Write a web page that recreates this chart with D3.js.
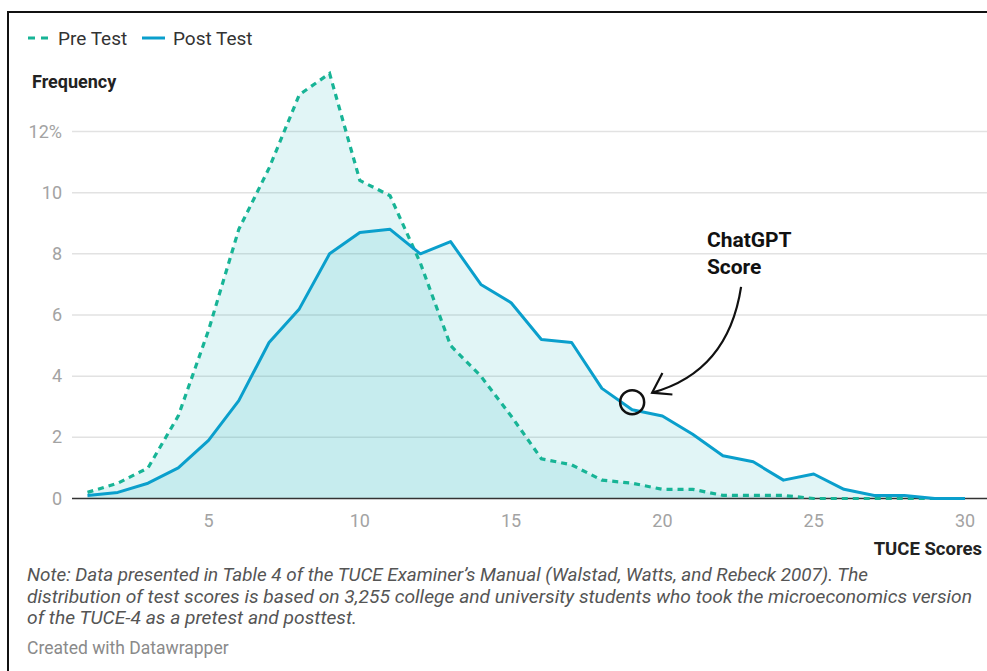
<!DOCTYPE html>
<html>
<head>
<meta charset="utf-8">
<script src="https://cdn.jsdelivr.net/npm/d3@7"></script>
<style>
  body { margin: 0; background: #fff; font-family: Roboto, "Noto Sans", sans-serif; }
  svg text { font-family: Roboto, "Noto Sans", sans-serif; }
</style>
</head>
<body>
<div id="chart"></div>
<script>
// TUCE score distribution, % of students per score
var scores = d3.range(1, 31);
var preTest = [0.2, 0.5, 1.0, 2.7, 5.5, 8.8, 10.8, 13.2, 13.9, 10.4,
               9.9, 7.7, 5.0, 4.0, 2.7, 1.3, 1.1, 0.6, 0.5, 0.3,
               0.3, 0.1, 0.1, 0.1, 0, 0, 0, 0, 0, 0];
var postTest = [0.1, 0.2, 0.5, 1.0, 1.9, 3.2, 5.1, 6.2, 8.0, 8.7,
                8.8, 8.0, 8.4, 7.0, 6.4, 5.2, 5.1, 3.6, 2.9, 2.7,
                2.1, 1.4, 1.2, 0.6, 0.8, 0.3, 0.1, 0.1, 0, 0];
var xTicks = [5, 10, 15, 20, 25, 30];
var yTicks = [0, 2, 4, 6, 8, 10, 12];

var width = 987, height = 671;

var svg = d3.select("#chart").append("svg")
    .attr("width", width)
    .attr("height", height);

// frame (top + left edges of the screenshot)
svg.append("path")
    .attr("d", "M8,671 L8,12 L987,12")
    .attr("fill", "none")
    .attr("stroke", "#111")
    .attr("stroke-width", 2);

var x = d3.scaleLinear().domain([1, 30]).range([87.5, 965]);
var y = d3.scaleLinear().domain([0, 12]).range([498.5, 131.5]);

// gridlines
svg.append("g").selectAll("line")
    .data(yTicks.filter(function(d) { return d > 0; }))
    .enter().append("line")
    .attr("x1", 72).attr("x2", width)
    .attr("y1", function(d) { return y(d); })
    .attr("y2", function(d) { return y(d); })
    .attr("stroke", "#e2e2e2")
    .attr("stroke-width", 1.5);

// y tick labels
svg.append("g").selectAll("text")
    .data(yTicks)
    .enter().append("text")
    .attr("x", 62)
    .attr("y", function(d) { return y(d) + 6; })
    .attr("text-anchor", "end")
    .attr("fill", "#a3a3a3")
    .style("font-size", "18px")
    .text(function(d) { return d === 12 ? "12%" : d; });

// x tick labels
svg.append("g").selectAll("text")
    .data(xTicks)
    .enter().append("text")
    .attr("x", function(d) { return x(d); })
    .attr("y", 527)
    .attr("text-anchor", "middle")
    .attr("fill", "#a3a3a3")
    .style("font-size", "18px")
    .text(function(d) { return d; });

// areas
var rows = scores.map(function(s, i) { return { s: s, pre: preTest[i], post: postTest[i] }; });

function area(key) {
    return d3.area()
        .x(function(d) { return x(d.s); })
        .y0(y(0))
        .y1(function(d) { return y(d[key]); });
}
function line(key) {
    return d3.line()
        .x(function(d) { return x(d.s); })
        .y(function(d) { return y(d[key]); });
}

svg.append("path").datum(rows)
    .attr("d", area("pre"))
    .attr("fill", "#15b0b9")
    .attr("fill-opacity", 0.13);
svg.append("path").datum(rows)
    .attr("d", area("post"))
    .attr("fill", "#15b0b9")
    .attr("fill-opacity", 0.13);

// baseline
svg.append("line")
    .attr("x1", 72).attr("x2", width)
    .attr("y1", y(0)).attr("y2", y(0))
    .attr("stroke", "#333")
    .attr("stroke-width", 1.5);

svg.append("path").datum(rows)
    .attr("d", line("pre"))
    .attr("fill", "none")
    .attr("stroke", "#17b496")
    .attr("stroke-width", 3.2)
    .attr("stroke-dasharray", "6,5");
svg.append("path").datum(rows)
    .attr("d", line("post"))
    .attr("fill", "none")
    .attr("stroke", "#0a9fcc")
    .attr("stroke-width", 3)
    .attr("stroke-linejoin", "round");

// legend
var legend = svg.append("g");
legend.append("line")
    .attr("x1", 28).attr("x2", 50).attr("y1", 38).attr("y2", 38)
    .attr("stroke", "#17b496").attr("stroke-width", 3.2)
    .attr("stroke-dasharray", "7,6");
legend.append("text")
    .attr("x", 58).attr("y", 45)
    .attr("fill", "#333").style("font-size", "19px")
    .text("Pre Test");
legend.append("line")
    .attr("x1", 142).attr("x2", 165).attr("y1", 38).attr("y2", 38)
    .attr("stroke", "#0a9fcc").attr("stroke-width", 3);
legend.append("text")
    .attr("x", 173).attr("y", 45)
    .attr("fill", "#333").style("font-size", "19px")
    .text("Post Test");

// axis titles
svg.append("text")
    .attr("x", 32).attr("y", 88)
    .attr("fill", "#222").style("font-size", "18px").style("font-weight", "bold")
    .text("Frequency");
svg.append("text")
    .attr("x", 982).attr("y", 555)
    .attr("text-anchor", "end")
    .attr("fill", "#222").style("font-size", "18.5px").style("font-weight", "bold")
    .text("TUCE Scores");

// ChatGPT annotation
var ann = svg.append("g");
ann.append("circle")
    .attr("cx", x(19)).attr("cy", y(3.15))
    .attr("r", 12)
    .attr("fill", "none").attr("stroke", "#111").attr("stroke-width", 2.5);
ann.append("path")
    .attr("d", "M" + x(22.6) + "," + y(6.92) +
               " Q" + x(22.17) + "," + y(4.14) + " " + x(19.66) + "," + y(3.46))
    .attr("fill", "none").attr("stroke", "#111").attr("stroke-width", 2.2);
ann.append("path")
    .attr("d", "M" + x(20.0) + "," + y(4.1) + " L" + x(19.66) + "," + y(3.46) +
               " L" + x(20.33) + "," + y(3.4))
    .attr("fill", "none").attr("stroke", "#111").attr("stroke-width", 2.2);
ann.append("text")
    .attr("x", x(21.47)).attr("y", y(8.22))
    .attr("fill", "#111").style("font-size", "21px").style("font-weight", "bold")
    .text("ChatGPT");
ann.append("text")
    .attr("x", x(21.47)).attr("y", y(7.34))
    .attr("fill", "#111").style("font-size", "21px").style("font-weight", "bold")
    .text("Score");

// notes
var notes = [
    "Note: Data presented in Table 4 of the TUCE Examiner\u2019s Manual (Walstad, Watts, and Rebeck 2007). The",
    "distribution of test scores is based on 3,255 college and university students who took the microeconomics version",
    "of the TUCE-4 as a pretest and posttest."
];
var noteWidths = [841, 945, 330];
svg.append("g").selectAll("text")
    .data(notes)
    .enter().append("text")
    .attr("x", 27)
    .attr("y", function(d, i) { return 581 + i * 21.5; })
    .attr("fill", "#555")
    .attr("textLength", function(d, i) { return noteWidths[i]; })
    .attr("lengthAdjust", "spacingAndGlyphs")
    .style("font-size", "18px")
    .style("font-style", "italic")
    .text(function(d) { return d; });

svg.append("text")
    .attr("x", 27).attr("y", 654)
    .attr("fill", "#8a8a8a")
    .style("font-size", "17.5px")
    .text("Created with Datawrapper");
</script>
</body>
</html>
